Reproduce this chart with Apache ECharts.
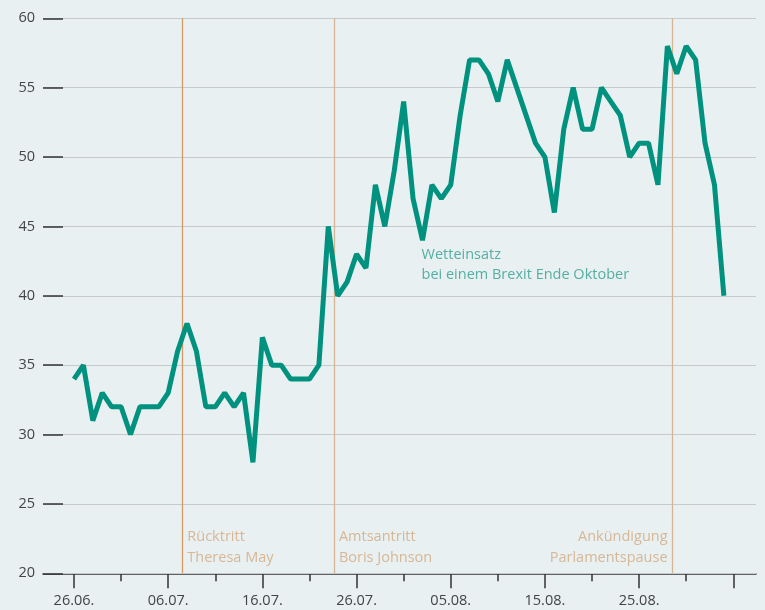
<!DOCTYPE html>
<html><head><meta charset="utf-8">
<script src="https://cdn.jsdelivr.net/npm/echarts@6/dist/echarts.min.js"></script>
<style>html,body{margin:0;padding:0;background:#e8f0f1}#c{width:765px;height:610px}</style>
</head><body><div id="c"></div>
<script>
// Tage ab 26.06. (Index = Tag)
const values = [34,35,31,33,32,32,30,32,32,32,33,36,38,36,32,32,33,32,33,28,37,35,35,34,34,34,35,45,40,41,43,42,48,45,49,54,47,44,48,47,48,53,57,57,56,54,57,55,53,51,50,46,52,55,52,52,55,54,53,50,51,51,48,58,56,58,57,51,48,40];
const majorTicks = [0,10,20,30,40,50,60,70];
const minorTicks = [5,15,25,35,45,55,65];
const tickLabels = ['26.06.','06.07.','16.07.','26.07.','05.08.','15.08.','25.08.'];
const yTicks = [20,25,30,35,40,45,50,55,60];
const eventDays = [11.5, 27.6, 63.55];
const eventLabels = ['Rücktritt\nTheresa May','Amtsantritt\nBoris Johnson','Ankündigung\nParlamentspause'];
const seriesLabel = 'Wetteinsatz\nbei einem Brexit Ende Oktober';
const seriesLabelPos = [36.9, 43.7];

const FONT = 'Open Sans';
const FS = 14.5;
const chart = echarts.init(document.getElementById('c'), null, {renderer:'canvas'});
const lineData = values.map((v,i)=>[i,v]);
const eventColors = ['#d49a63','#d4b594','#d4b594'];

chart.setOption({
  backgroundColor:'#e8f0f1',
  animation:false,
  grid:{left:43,right:9,top:18.3,bottom:36.7},
  xAxis:[{
    type:'value', min:-3.29, max:72.41, position:'bottom',
    axisLine:{show:true,onZero:false,lineStyle:{color:'#333',width:1.5}},
    axisTick:{show:true,customValues:majorTicks,length:15,lineStyle:{color:'#333',width:1.5}},
    axisLabel:{show:true,customValues:majorTicks.slice(0,7),formatter:v=>tickLabels[Math.round(v/10)]||'',color:'#444',fontFamily:FONT,fontSize:FS,margin:20},
    splitLine:{show:false}
  },{
    type:'value', min:-3.29, max:72.41, position:'bottom',
    axisLine:{show:false,onZero:false},
    axisTick:{show:true,customValues:minorTicks,length:8,lineStyle:{color:'#333',width:1.5}},
    axisLabel:{show:false},
    splitLine:{show:false}
  }],
  yAxis:[{
    type:'value', min:20, max:60, interval:5, z:5, position:'left',
    axisLine:{show:false,onZero:false},
    axisTick:{show:true,inside:true,length:20,lineStyle:{color:'#333',width:1.5}},
    axisLabel:{color:'#444',fontFamily:FONT,fontSize:FS,margin:8},
    splitLine:{show:false}
  },{
    type:'value', min:20, max:60, interval:5, z:1, position:'left',
    axisLine:{show:false,onZero:false},axisTick:{show:false},axisLabel:{show:false},
    splitLine:{show:true,lineStyle:{color:'#c6cacb',width:1.2}}
  }],
  series:[{
    type:'line', data:lineData, xAxisIndex:0, yAxisIndex:0, z:4,
    showSymbol:false, symbol:'none',
    lineStyle:{color:'#00927f',width:5},
    markLine:{
      silent:true, symbol:'none', z:1,
      label:{show:false},
      data:eventDays.map((d,i)=>({xAxis:d,lineStyle:{color:eventColors[i],width:1.3,type:'solid'}}))
    }
  },{
    type:'scatter', symbolSize:0, xAxisIndex:0, yAxisIndex:0, z:3,
    data:eventDays.map((d,i)=>({
      value:[d,20],
      label:{show:true,formatter:eventLabels[i],position:i===2?[-5,-5]:[5,-5],
        align:i===2?'right':'left',verticalAlign:'bottom',
        color:'#d2a97f',fontFamily:FONT,fontSize:FS,lineHeight:21}
    }))
  },{
    type:'scatter', symbolSize:0, xAxisIndex:0, yAxisIndex:0, z:3,
    data:[{value:seriesLabelPos,label:{show:true,formatter:seriesLabel,position:[0,0],align:'left',verticalAlign:'top',
      color:'#2f9e8f',fontFamily:FONT,fontSize:FS,lineHeight:20}}]
  }]
});
</script></body></html>
